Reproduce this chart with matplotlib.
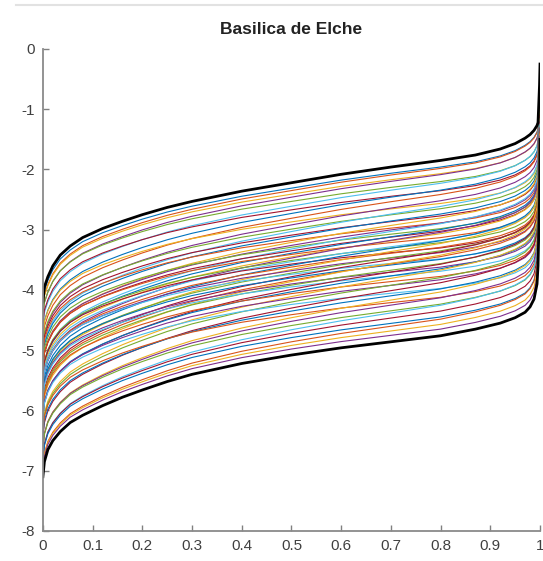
import matplotlib

matplotlib.use("Agg")
import matplotlib.pyplot as plt
import numpy as np
from matplotlib.lines import Line2D

plt.rcParams["font.family"] = ["Liberation Sans", "DejaVu Sans"]
plt.rcParams["axes.unicode_minus"] = False

# sample positions along x
x_pts = [0, 0.003, 0.01, 0.02, 0.035, 0.055, 0.08, 0.12, 0.16, 0.2, 0.25, 0.3,
         0.4, 0.5, 0.6, 0.7, 0.8, 0.87, 0.92, 0.95, 0.97, 0.98, 0.988, 0.994,
         0.996, 0.999, 1.0]

# thick black upper / lower curves
upper = [-4.20, -3.95, -3.78, -3.60, -3.42, -3.27, -3.13, -2.98, -2.86, -2.75,
         -2.63, -2.53, -2.36, -2.22, -2.08, -1.96, -1.85, -1.76, -1.66, -1.57,
         -1.48, -1.42, -1.35, -1.27, -1.22, -0.60, -0.25]
lower = [-7.10, -6.85, -6.65, -6.50, -6.35, -6.20, -6.08, -5.92, -5.78, -5.66,
         -5.52, -5.40, -5.22, -5.08, -4.96, -4.86, -4.76, -4.65, -4.55, -4.46,
         -4.37, -4.28, -4.15, -3.90, -3.60, -2.50, -1.50]

# level of each coloured curve at x = 0.5
mid_levels = [-2.31, -2.35, -2.41, -2.46, -2.53, -2.61, -2.67, -2.73,
              -2.81, -2.87, -2.92, -2.99, -3.03, -3.09, -3.12, -3.18, -3.21,
              -3.26, -3.29, -3.32, -3.35, -3.39, -3.41, -3.45, -3.47, -3.51,
              -3.53, -3.57, -3.59, -3.62, -3.66, -3.68, -3.72, -3.74, -3.78,
              -3.80, -3.84, -3.86, -3.90, -3.92, -3.95, -3.99, -4.03, -4.06,
              -4.11, -4.14, -4.20, -4.24, -4.30, -4.35, -4.41, -4.46, -4.52,
              -4.59, -4.66, -4.72, -4.79, -4.86, -4.92, -4.98]

# how much each coloured curve drifts across the band from left to right
tilts = [-0.02, 0.00, -0.03, 0.01, -0.04, 0.02, -0.05, 0.03, 0.04, -0.06,
         0.05, -0.02, 0.07, -0.04, 0.03, -0.07, 0.06, 0.02, -0.05, 0.08,
         -0.03, 0.05, -0.08, 0.04, 0.09, -0.06, 0.01, -0.09, 0.07, -0.02,
         0.10, -0.05, 0.03, -0.10, 0.08, -0.04, 0.06, 0.11, -0.07, 0.02,
         -0.09, 0.09, 0.05, -0.06, 0.12, -0.03, 0.08, -0.08, 0.10, 0.04,
         -0.05, 0.11, 0.07, 0.03, 0.09, 0.05, 0.02, 0.06, 0.03, 0.01]

matlab_colors = ["#0072BD", "#D95319", "#EDB120", "#7E2F8E", "#77AC30",
                 "#4DBEEE", "#A2142F"]

x = np.array(x_pts)
up = np.array(upper)
lo = np.array(lower)
up_mid = up[x_pts.index(0.5)]
lo_mid = lo[x_pts.index(0.5)]

fig = plt.figure(figsize=(5.43, 5.61), dpi=100)
ax = fig.add_axes([0.079, 0.0535, 0.9155, 0.8592])

for i, (m, t) in enumerate(zip(mid_levels, tilts)):
    w = (m - lo_mid) / (up_mid - lo_mid) + t * (x - 0.5)
    w = np.clip(w, 0.0, 0.985)
    ax.plot(x, lo + w * (up - lo), color=matlab_colors[i % 7], lw=0.8)

ax.plot(x, up, color="black", lw=2.0)
ax.plot(x, lo, color="black", lw=2.0)

ax.set_xlim(0, 1)
ax.set_ylim(-8, 0)
ax.set_xticks(np.arange(0, 1.01, 0.1))
ax.set_xticklabels(["0", "0.1", "0.2", "0.3", "0.4", "0.5", "0.6", "0.7",
                    "0.8", "0.9", "1"])
ax.set_yticks(range(-8, 1))
ax.set_yticklabels([str(v) for v in range(-8, 1)])
ax.tick_params(direction="in", length=4, width=1, color="#808080",
               labelsize=11, labelcolor="#404040", pad=6)
ax.spines["top"].set_visible(False)
ax.spines["right"].set_visible(False)
for s in ("left", "bottom"):
    ax.spines[s].set_color("#8a8a8a")
    ax.spines[s].set_linewidth(1.3)

ax.set_title("Basilica de Elche", fontsize=12.5, fontweight="bold",
             color="#222222", pad=11)

fig.add_artist(Line2D([0.03, 1.0], [0.991, 0.991], color="#e2e2e2", lw=1.5))

fig.savefig("out.png", dpi=100)
